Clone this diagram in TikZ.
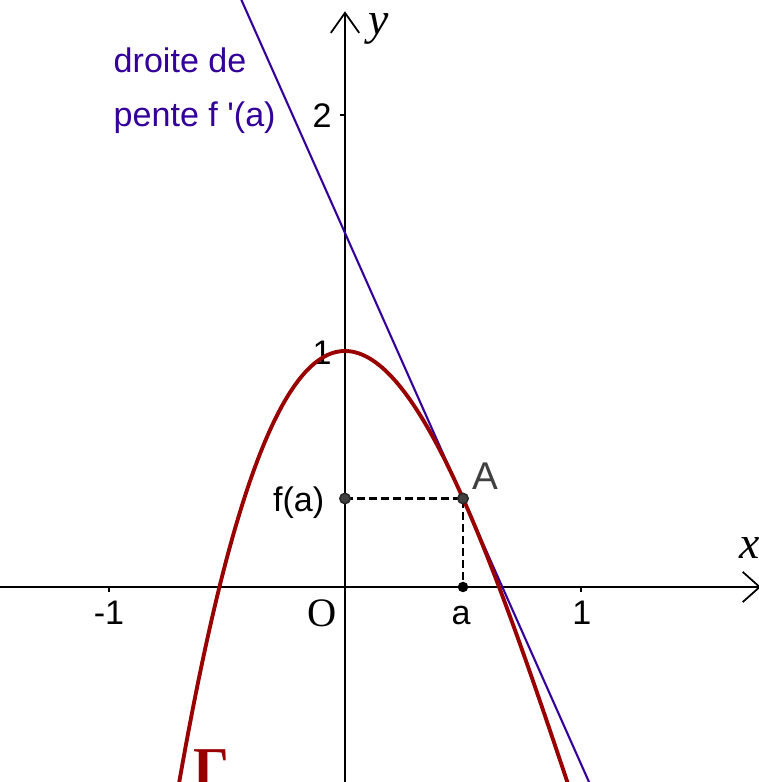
\documentclass[tikz,border=0pt]{standalone}
\usepackage{fontspec}
\usetikzlibrary{calc}
\setmainfont{Liberation Sans}
\newfontfamily\tnr{Liberation Serif}
\definecolor{tanblue}{HTML}{330099}
\definecolor{curvered}{HTML}{990000}
\definecolor{ptgray}{HTML}{404040}
\begin{document}
\begin{tikzpicture}[x=2.36cm,y=2.36cm,
  axisline/.style={line width=0.5pt,black},
  tickmark/.style={line width=0.5pt,black},
  lbl/.style={font=\fontsize{9.7}{11}\selectfont,inner sep=0pt,anchor=base},
  tanline/.style={line width=0.6pt,tanblue},
  curveline/.style={line width=1.1pt,curvered},
  dashline/.style={line width=0.6pt,black,dash pattern=on 0.075cm off 0.045cm},
  ptdot/.style={circle,fill=ptgray,draw=black!85,line width=0.4pt,inner sep=0pt,minimum size=0.105cm},
  axlabel/.style={font=\tnr\itshape\fontsize{13}{15}\selectfont,inner sep=0pt,anchor=base west}]
\useasboundingbox (-1.4619,-0.8263) rectangle (1.7542,2.4873);
\clip (-1.4619,-0.8263) rectangle (1.7542,2.4873);
% axes
\coordinate (O) at (0,0);
\coordinate (xl) at (-1.47,0);
\coordinate (xr) at (1.757,0);
\coordinate (yb) at (0,-0.83);
\coordinate (yt) at (0,2.433);
\draw[axisline] (xl) -- (xr);
\draw[axisline] (yb) -- (yt);
\draw[axisline] ($(xr)+(-0.072,0.064)$) -- (xr) -- ($(xr)+(-0.072,-0.064)$);
\draw[axisline] ($(yt)+(-0.06,-0.085)$) -- (yt) -- ($(yt)+(0.06,-0.085)$);
% ticks
\foreach \t in {-1,1} \draw[tickmark] (\t,0) -- (\t,-0.021);
\foreach \t in {1,2} \draw[tickmark] (0,\t) -- (-0.021,\t);
% tick labels
\node[lbl] (lm1) at (-1.0,-0.161) {-1};
\node[lbl] (l1) at (1.004,-0.161) {1};
\node[lbl] (ly1) at (-0.097,0.943) {1};
\node[lbl] (ly2) at (-0.097,1.948) {2};
\node[font=\tnr\fontsize{11.5}{13}\selectfont,inner sep=0pt,anchor=base] (lO) at (-0.097,-0.169) {O};
\node[axlabel] (lx) at (1.67,0.119) {x};
\node[axlabel] (lyy) at (0.097,2.339) {y};
% points
\coordinate (A) at (0.5,0.375);
\coordinate (FA) at (0,0.375);
\coordinate (Ax) at (0.5,0);
\draw[dashline] (FA) -- (A) -- (Ax);
% tangent
\coordinate (T1) at (-0.45,2.5125);
\coordinate (T2) at (1.1,-0.975);
\draw[tanline] (T1) -- (T2);
% curve
\draw[curveline] plot[domain=-0.75:0.97,samples=120,smooth] (\x,{\x*\x*\x-3*\x*\x+1});
\node[ptdot] (pFA) at (FA) {};
\node[ptdot] (pA) at (A) {};
\node[circle,fill=black,inner sep=0pt,minimum size=0.105cm] (pAx) at (Ax) {};
% labels
\node[lbl,anchor=base east] (lfa) at (-0.085,0.318) {f(a)};
\node[lbl] (la) at (0.492,-0.161) {a};
\node[lbl,anchor=base west,text=ptgray,font=\fontsize{11}{13}\selectfont] (lA) at (0.538,0.411) {A};
\node[lbl,anchor=base west,text=tanblue] (d1) at (-0.983,2.179) {droite de};
\node[lbl,anchor=base west,text=tanblue] (d2) at (-0.983,1.950) {pente f \textquotesingle(a)};
\node[font=\tnr\bfseries\fontsize{16}{18}\selectfont,text=curvered,inner sep=0pt,anchor=north west] (G) at (-0.644,-0.685) {Γ};
\end{tikzpicture}
\end{document}
